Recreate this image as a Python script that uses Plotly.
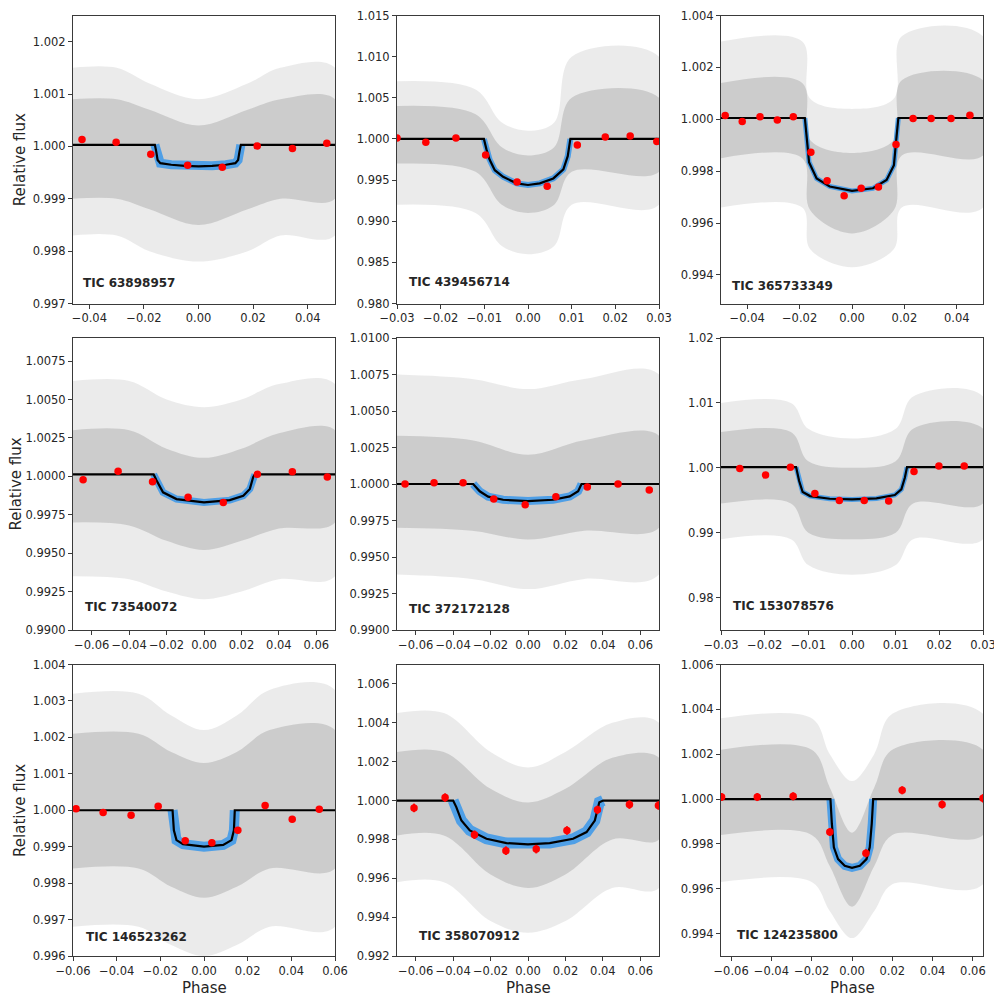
import plotly.graph_objects as go
from plotly.subplots import make_subplots

# target names, one per panel (row by row)
tic_ids = ["TIC 63898957", "TIC 439456714", "TIC 365733349",
           "TIC 73540072", "TIC 372172128", "TIC 153078576",
           "TIC 146523262", "TIC 358070912", "TIC 124235800"]

# best-fit transit model (black line)
model_phase = [
    [-0.046, -0.0160, -0.0155, -0.0150, -0.0140, -0.010, -0.005, 0.000, 0.005, 0.010, 0.0135, 0.0145, 0.0150, 0.0155, 0.050],
    [-0.03, -0.0101, -0.0095, -0.0088, -0.0076, -0.0057, -0.0026, 0.0, 0.0027, 0.0058, 0.0081, 0.0091, 0.0097, 0.03],
    [-0.05, -0.0180, -0.0170, -0.0164, -0.0135, -0.0085, 0.0, 0.008, 0.0132, 0.0160, 0.0170, 0.0177, 0.05],
    [-0.07, -0.0269, -0.0254, -0.0219, -0.0147, 0.0, 0.0138, 0.021, 0.0245, 0.0263, 0.0272, 0.07],
    [-0.07, -0.0293, -0.0258, -0.0213, -0.0133, 0.0, 0.0134, 0.0223, 0.0268, 0.0286, 0.07],
    [-0.03, -0.0128, -0.0121, -0.0113, -0.0096, -0.0051, 0.0, 0.0056, 0.0098, 0.0113, 0.0121, 0.0126, 0.03],
    [-0.06, -0.0144, -0.0138, -0.0126, -0.0096, 0.0, 0.0088, 0.0126, 0.0137, 0.0141, 0.06],
    [-0.07, -0.040, -0.0383, -0.0356, -0.0311, -0.0222, -0.0115, 0.0, 0.0116, 0.0241, 0.0313, 0.0357, 0.0381, 0.0402, 0.07],
    [-0.065, -0.0107, -0.010, -0.009, -0.0069, -0.0036, 0.0, 0.0039, 0.0072, 0.0088, 0.0098, 0.0105, 0.065],
]
model_flux = [
    [1.00003, 1.00003, 0.99990, 0.99974, 0.99968, 0.99965, 0.99963, 0.99962, 0.99963, 0.99965, 0.99968, 0.99974, 0.99990, 1.00003, 1.00003],
    [1.0, 1.0, 0.9987, 0.9975, 0.9962, 0.9954, 0.9946, 0.9944, 0.9946, 0.9952, 0.9963, 0.9979, 1.0, 1.0],
    [1.00005, 1.00005, 0.9990, 0.99835, 0.99772, 0.99741, 0.99724, 0.99734, 0.99766, 0.99823, 0.99933, 1.00005, 1.00005],
    [1.00012, 1.00012, 0.99974, 0.99896, 0.99852, 0.9983, 0.99845, 0.99874, 0.99918, 0.99996, 1.00012, 1.00012],
    [1.0, 1.0, 0.9995, 0.99913, 0.99892, 0.99883, 0.99892, 0.99915, 0.9995, 1.0, 1.0],
    [1.0001, 1.0001, 0.99795, 0.99626, 0.99564, 0.99523, 0.99513, 0.99528, 0.9958, 0.99667, 0.99846, 1.0001, 1.0001],
    [1.0, 1.0, 0.99945, 0.99918, 0.99907, 0.999, 0.99905, 0.99918, 0.99945, 1.0, 1.0],
    [1.0, 1.0, 0.99966, 0.99897, 0.99846, 0.99803, 0.99781, 0.99774, 0.99781, 0.99803, 0.99838, 0.99897, 0.99991, 1.0, 1.0],
    [1.0, 1.0, 0.9989, 0.99785, 0.99732, 0.99702, 0.99693, 0.99702, 0.99732, 0.99785, 0.9989, 1.0, 1.0],
]

# binned points (red)
bin_phase = [
    [-0.0427, -0.0302, -0.0175, -0.0040, 0.0087, 0.0215, 0.0344, 0.0470],
    [-0.0300, -0.0234, -0.0165, -0.0097, -0.0025, 0.0044, 0.0113, 0.0177, 0.0234, 0.0295],
    [-0.0484, -0.0419, -0.0351, -0.0285, -0.0224, -0.0157, -0.0095, -0.0030, 0.0035, 0.0101, 0.0168, 0.0233, 0.0302, 0.0378, 0.0450],
    [-0.0646, -0.0459, -0.0275, -0.0085, 0.0103, 0.0285, 0.0472, 0.0659],
    [-0.0657, -0.0502, -0.0347, -0.0183, -0.0015, 0.0149, 0.0317, 0.0481, 0.0648],
    [-0.0257, -0.0198, -0.0141, -0.0085, -0.0029, 0.0028, 0.0084, 0.0142, 0.0199, 0.0257],
    [-0.0586, -0.0462, -0.0334, -0.0210, -0.0086, 0.0036, 0.0155, 0.0280, 0.0404, 0.0528],
    [-0.0609, -0.0443, -0.0286, -0.0118, 0.0044, 0.0208, 0.0371, 0.0542, 0.0697],
    [-0.0647, -0.0470, -0.0292, -0.0110, 0.0069, 0.0249, 0.0447, 0.0650],
]
bin_flux = [
    [1.00013, 1.00008, 0.99985, 0.99964, 0.99960, 1.00001, 0.99996, 1.00006],
    [1.00012, 0.9996, 1.00012, 0.99806, 0.99476, 0.99425, 0.99925, 1.00024, 1.00036, 0.99968],
    [1.00015, 0.99991, 1.0001, 0.99997, 1.0001, 0.99873, 0.99763, 0.99705, 0.99734, 0.99739, 0.99903, 1.00003, 1.00003, 1.00003, 1.00016],
    [0.99978, 1.00033, 0.99965, 0.99863, 0.9983, 1.00013, 1.00029, 0.99996],
    [1.0, 1.00009, 1.00009, 0.99897, 0.99858, 0.99913, 0.99979, 1.0, 0.99959],
    [0.9999, 0.99887, 1.0001, 0.99605, 0.99497, 0.99497, 0.99487, 0.99944, 1.00026, 1.00026],
    [1.00004, 0.99994, 0.99986, 1.00011, 0.99916, 0.99911, 0.99945, 1.00013, 0.99975, 1.00003],
    [0.99962, 1.00015, 0.99824, 0.99742, 0.9975, 0.99846, 0.99952, 0.99979, 0.99974],
    [1.00009, 1.00009, 1.00012, 0.99853, 0.99758, 1.00039, 0.99976, 1.00003],
]
bin_err = [0.00004, 0.0003, 0.00008, 0.00012, 0.0001, 0.0004, 0.00008, 0.00022, 0.00018]

# spread of the unbinned photometry: outer = error bar reach, inner = bulk of points
env_phase = [
    [-0.046, -0.03, -0.018, 0.0, 0.018, 0.03, 0.050],
    [-0.03, -0.012, -0.006, 0.0, 0.006, 0.01, 0.03],
    [-0.05, -0.019, -0.016, 0.0, 0.016, 0.019, 0.05],
    [-0.07, -0.04, -0.02, 0.0, 0.02, 0.04, 0.07],
    [-0.07, -0.03, 0.0, 0.03, 0.07],
    [-0.03, -0.014, -0.01, 0.0, 0.01, 0.014, 0.03],
    [-0.06, -0.03, -0.015, 0.0, 0.015, 0.03, 0.06],
    [-0.07, -0.045, -0.02, 0.0, 0.02, 0.045, 0.07],
    [-0.065, -0.02, -0.011, 0.0, 0.011, 0.02, 0.065],
]
outer_hi = [
    [1.0015, 1.0015, 1.0012, 1.0009, 1.0012, 1.0015, 1.0015],
    [1.007, 1.006, 1.002, 1.001, 1.002, 1.010, 1.010],
    [1.0030, 1.0030, 1.0008, 1.0004, 1.0008, 1.0032, 1.0032],
    [1.0062, 1.0062, 1.005, 1.0045, 1.005, 1.006, 1.006],
    [1.0075, 1.0072, 1.0065, 1.0072, 1.0075],
    [1.010, 1.010, 1.006, 1.0045, 1.006, 1.011, 1.011],
    [1.0032, 1.0032, 1.0026, 1.0022, 1.0026, 1.0033, 1.0033],
    [1.0045, 1.0045, 1.0025, 1.0017, 1.0025, 1.0040, 1.0040],
    [1.0036, 1.0036, 1.0020, 1.0008, 1.0020, 1.0038, 1.0038],
]
outer_lo = [
    [0.9983, 0.9983, 0.9980, 0.9978, 0.9980, 0.9983, 0.9983],
    [0.992, 0.991, 0.987, 0.986, 0.987, 0.992, 0.992],
    [0.9966, 0.9966, 0.9950, 0.9943, 0.9950, 0.9966, 0.9966],
    [0.9935, 0.9933, 0.9925, 0.992, 0.9925, 0.9933, 0.9935],
    [0.9938, 0.9935, 0.9928, 0.9935, 0.9938],
    [0.989, 0.989, 0.985, 0.9835, 0.985, 0.989, 0.989],
    [0.9968, 0.9968, 0.9963, 0.9960, 0.9963, 0.9968, 0.9968],
    [0.9958, 0.9958, 0.9938, 0.9932, 0.9938, 0.9955, 0.9955],
    [0.9963, 0.9963, 0.9950, 0.9938, 0.9950, 0.9962, 0.9962],
]
inner_hi = [
    [1.0009, 1.0009, 1.0007, 1.0004, 1.0007, 1.0009, 1.0009],
    [1.004, 1.003, 0.999, 0.998, 0.999, 1.005, 1.005],
    [1.0014, 1.0014, 0.9992, 0.9987, 0.9992, 1.0015, 1.0015],
    [1.0030, 1.0030, 1.0018, 1.0012, 1.0018, 1.0028, 1.0030],
    [1.0033, 1.0030, 1.0020, 1.0030, 1.0033],
    [1.0055, 1.0055, 1.001, 1.0, 1.001, 1.006, 1.006],
    [1.0021, 1.0021, 1.0016, 1.0013, 1.0016, 1.0022, 1.0022],
    [1.0025, 1.0025, 1.0006, 0.9999, 1.0006, 1.0022, 1.0022],
    [1.0022, 1.0022, 1.0005, 0.9985, 1.0005, 1.0022, 1.0022],
]
inner_lo = [
    [0.9990, 0.9990, 0.9988, 0.9985, 0.9988, 0.9990, 0.9990],
    [0.997, 0.996, 0.992, 0.991, 0.992, 0.996, 0.996],
    [0.9985, 0.9985, 0.9965, 0.9956, 0.9965, 0.9986, 0.9986],
    [0.9970, 0.9968, 0.9958, 0.9952, 0.9958, 0.9966, 0.9970],
    [0.9970, 0.9968, 0.9962, 0.9968, 0.9970],
    [0.9945, 0.9945, 0.990, 0.989, 0.990, 0.9945, 0.9945],
    [0.9984, 0.9984, 0.9979, 0.9976, 0.9979, 0.9984, 0.9984],
    [0.9982, 0.9982, 0.9962, 0.9955, 0.9962, 0.9980, 0.9980],
    [0.9984, 0.9984, 0.9970, 0.9952, 0.9970, 0.9984, 0.9984],
]

# axes
x_ranges = [(-0.046, 0.050), (-0.03, 0.03), (-0.05, 0.05), (-0.07, 0.07), (-0.07, 0.07),
            (-0.03, 0.03), (-0.06, 0.06), (-0.07, 0.07), (-0.065, 0.065)]
y_ranges = [(0.997, 1.0025), (0.98, 1.015), (0.9929, 1.004), (0.99, 1.009), (0.99, 1.01),
            (0.975, 1.02), (0.996, 1.004), (0.992, 1.007), (0.993, 1.006)]
x_dtick = [0.02, 0.01, 0.02, 0.02, 0.02, 0.01, 0.02, 0.02, 0.02]
y_dtick = [0.001, 0.005, 0.002, 0.0025, 0.0025, 0.01, 0.001, 0.002, 0.002]
y_fmt = [".3f", ".3f", ".3f", ".4f", ".4f", ".2f", ".3f", ".3f", ".3f"]

# styling; the page puts the plot 8 px in from the top-left, so pixel spots below
# are the reference spots minus 8 and the figure is 994 px square
# (top row starts a few px lower so its top tick labels are not clipped)
blue_width = [9, 6, 5, 7, 8, 5, 10, 11, 8]
label_pos = [(0.03, 0.07), (0.037, 0.075), (0.034, 0.06), (0.04, 0.079), (0.038, 0.073),
             (0.037, 0.082), (0.042, 0.065), (0.075, 0.068), (0.053, 0.072)]
col_px = [(65, 327), (389, 651), (713, 975)]
row_px = [(7.5, 295.5), (330, 622), (656.5, 948)]
ylabel_px = [12.7, 7.5, 12.7]
phase_y_px = 979.5
W = 994.0
font = "DejaVu Sans"
ink = "#262626"
frame = "#3a3a3a"

fig = make_subplots(rows=3, cols=3)

for i in range(9):
    r, c = i // 3 + 1, i % 3 + 1
    ex = env_phase[i]
    fig.add_trace(go.Scatter(x=ex + ex[::-1], y=outer_hi[i] + outer_lo[i][::-1], fill="toself",
                             fillcolor="rgba(210,210,210,0.45)", line=dict(width=0, shape="spline"),
                             mode="lines", hoverinfo="skip"), row=r, col=c)
    fig.add_trace(go.Scatter(x=ex + ex[::-1], y=inner_hi[i] + inner_lo[i][::-1], fill="toself",
                             fillcolor="rgba(150,150,150,0.36)", line=dict(width=0, shape="spline"),
                             mode="lines", hoverinfo="skip"), row=r, col=c)
    # posterior spread only shows where the model leaves the baseline
    fig.add_trace(go.Scatter(x=model_phase[i][1:-1], y=model_flux[i][1:-1], mode="lines",
                             line=dict(color="#4f9fe6", width=blue_width[i])), row=r, col=c)
    fig.add_trace(go.Scatter(x=model_phase[i], y=model_flux[i], mode="lines",
                             line=dict(color="black", width=2.2)), row=r, col=c)
    fig.add_trace(go.Scatter(x=bin_phase[i], y=bin_flux[i], mode="markers",
                             marker=dict(color="red", size=7.5),
                             error_y=dict(type="constant", value=bin_err[i], color="red",
                                          thickness=2, width=0)), row=r, col=c)

    x0, x1 = col_px[c - 1]
    y0, y1 = row_px[r - 1]
    pad_x = (x_ranges[i][1] - x_ranges[i][0]) * 1e-6
    pad_y = (y_ranges[i][1] - y_ranges[i][0]) * 1e-6
    fig.update_xaxes(domain=[x0 / W, x1 / W], range=[x_ranges[i][0] - pad_x, x_ranges[i][1] + pad_x],
                     tick0=0, dtick=x_dtick[i], tickformat=".2f", row=r, col=c)
    fig.update_yaxes(domain=[1 - y1 / W, 1 - y0 / W], range=[y_ranges[i][0] - pad_y, y_ranges[i][1] + pad_y],
                     tick0=1.0, dtick=y_dtick[i], tickformat=y_fmt[i], row=r, col=c)

    tx, ty = label_pos[i]
    xref = "x domain" if i == 0 else "x%d domain" % (i + 1)
    yref = "y domain" if i == 0 else "y%d domain" % (i + 1)
    fig.add_annotation(text="<b>%s</b>" % tic_ids[i], x=tx, y=ty, xref=xref, yref=yref,
                       xanchor="left", yanchor="middle", showarrow=False,
                       font=dict(family=font, size=12, color=ink))

fig.update_xaxes(showline=True, mirror=True, linecolor=frame, linewidth=1, showgrid=False,
                 zeroline=False, ticks="outside", ticklen=4, tickcolor=frame, tickangle=0,
                 automargin=False, ticklabeloverflow="allow",
                 tickfont=dict(family=font, size=11.5, color=ink))
fig.update_yaxes(showline=True, mirror=True, linecolor=frame, linewidth=1, showgrid=False,
                 zeroline=False, ticks="outside", ticklen=4, tickcolor=frame,
                 automargin=False, ticklabeloverflow="allow",
                 tickfont=dict(family=font, size=11.5, color=ink))

# axis titles placed in paper pixels
for c in range(3):
    x0, x1 = col_px[c]
    fig.add_annotation(text="Phase", x=(x0 + x1) / 2 / W, y=1 - phase_y_px / W, xref="paper", yref="paper",
                       xanchor="center", yanchor="middle", showarrow=False,
                       font=dict(family=font, size=15, color=ink))
for r in range(3):
    y0, y1 = row_px[r]
    fig.add_annotation(text="Relative flux", x=ylabel_px[r] / W, y=1 - (y0 + y1) / 2 / W,
                       xref="paper", yref="paper", textangle=-90,
                       xanchor="center", yanchor="middle", showarrow=False,
                       font=dict(family=font, size=15, color=ink))

fig.update_layout(width=994, height=994, showlegend=False,
                  margin=dict(l=0, r=0, t=0, b=0),
                  paper_bgcolor="white", plot_bgcolor="white",
                  font=dict(family=font, color=ink))

fig.write_html("out.html")
